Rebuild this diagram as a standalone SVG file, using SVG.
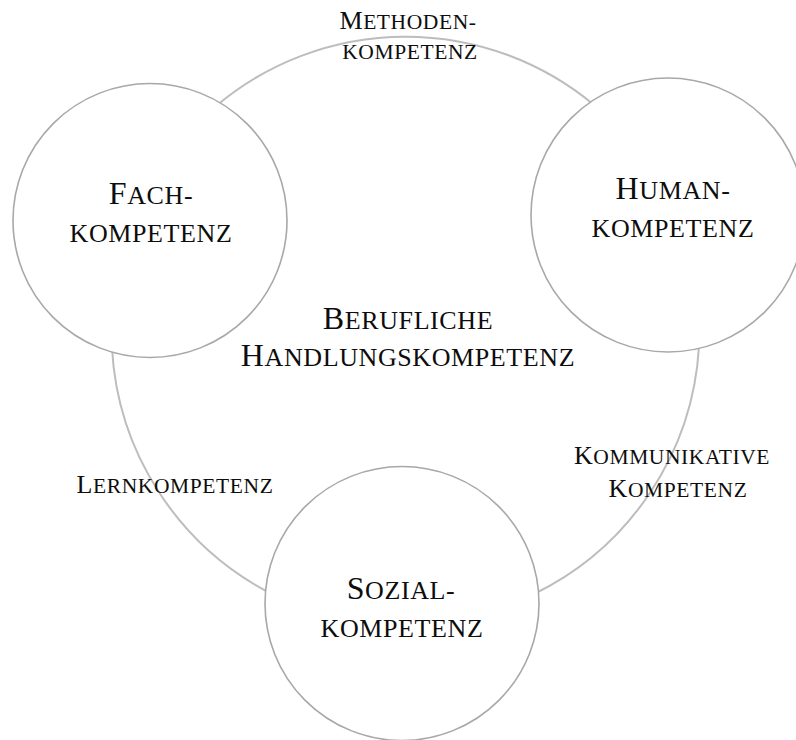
<svg xmlns="http://www.w3.org/2000/svg" width="796" height="740" viewBox="0 0 796 740">
  <style>
    .arc { fill: none; stroke: #bdbdbd; stroke-width: 2; }
    .node { fill: #ffffff; stroke: #a8a8a8; stroke-width: 1.6; }
    text { font-family: "Liberation Serif", "DejaVu Serif", serif; fill: #0d0d0d; text-anchor: middle; letter-spacing: 0.6px; }
    .big { font-size: 26px; }
    .big .cap { font-size: 32px; }
    .sm { font-size: 21.5px; letter-spacing: 0.6px; }
    .sm .cap { font-size: 26px; }
  </style>
  <rect width="796" height="740" fill="#ffffff"/>

  <!-- connecting arcs of the outer ring -->
  <g id="connectors">
    <path class="arc" d="M 216 106 A 294 294 0 0 1 594 105"/>
    <path class="arc" d="M 699 346 A 294 294 0 0 1 534 594"/>
    <path class="arc" d="M 268 592 A 294 294 0 0 1 112 348"/>
  </g>

  <g id="center">
    <text class="big" x="408" y="329"><tspan class="cap">B</tspan>ERUFLICHE</text>
    <text class="big" x="408" y="366"><tspan class="cap">H</tspan>ANDLUNGSKOMPETENZ</text>
  </g>

  <g id="fach">
    <circle class="node" cx="150" cy="220.5" r="137"/>
    <text class="big" x="151" y="204"><tspan class="cap">F</tspan>ACH-</text>
    <text class="big" x="151" y="242">KOMPETENZ</text>
  </g>

  <g id="human">
    <circle class="node" cx="668" cy="215" r="137"/>
    <text class="big" x="673" y="199"><tspan class="cap">H</tspan>UMAN-</text>
    <text class="big" x="673" y="237">KOMPETENZ</text>
  </g>

  <g id="sozial">
    <circle class="node" cx="402" cy="603.5" r="137"/>
    <text class="big" x="401" y="599"><tspan class="cap">S</tspan>OZIAL-</text>
    <text class="big" x="402" y="637">KOMPETENZ</text>
  </g>

  <g id="methoden">
    <text class="sm" x="408" y="29"><tspan class="cap">M</tspan>ETHODEN-</text>
    <text class="sm" x="410" y="59">KOMPETENZ</text>
  </g>

  <g id="kommunikativ">
    <text class="sm" x="672" y="464"><tspan class="cap">K</tspan>OMMUNIKATIVE</text>
    <text class="sm" x="678" y="497"><tspan class="cap">K</tspan>OMPETENZ</text>
  </g>

  <g id="lern">
    <text class="sm" x="175" y="493"><tspan class="cap">L</tspan>ERNKOMPETENZ</text>
  </g>
</svg>
